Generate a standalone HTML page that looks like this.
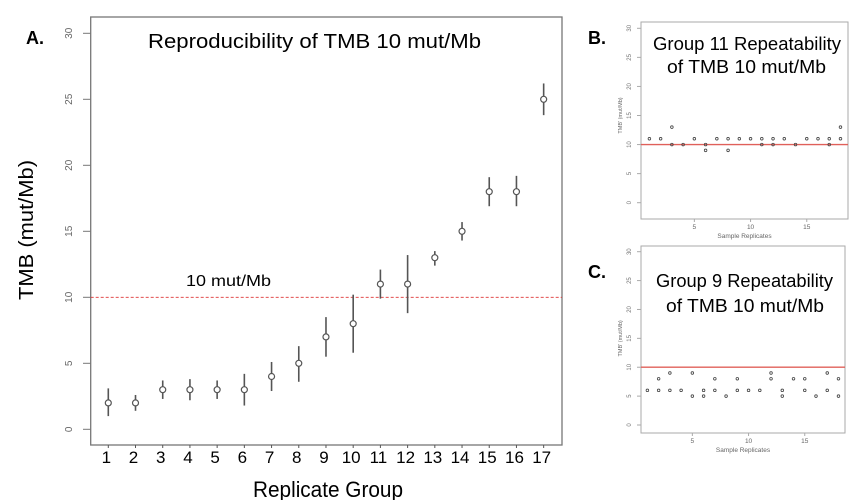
<!DOCTYPE html>
<html><head><meta charset="utf-8"><style>
body{margin:0;background:#fff;}
svg{display:block;font-family:"Liberation Sans",sans-serif;}
</style></head><body>
<svg id="s" width="864" height="500" viewBox="0 0 864 500" xmlns="http://www.w3.org/2000/svg">
<text x="26" y="44" font-size="18" font-weight="bold">A.</text>
<text x="588" y="44" font-size="18" font-weight="bold">B.</text>
<text x="588" y="278" font-size="18" font-weight="bold">C.</text>
<text x="148" y="48" font-size="20" textLength="333" lengthAdjust="spacingAndGlyphs">Reproducibility of TMB 10 mut/Mb</text>
<text x="186" y="286" font-size="16" textLength="85" lengthAdjust="spacingAndGlyphs">10 mut/Mb</text>
<text transform="translate(33,300) rotate(-90)" font-size="20" textLength="140" lengthAdjust="spacingAndGlyphs">TMB (mut/Mb)</text>
<text x="253" y="497" font-size="22" textLength="150" lengthAdjust="spacingAndGlyphs">Replicate Group</text>
<text x="653" y="50" font-size="18" textLength="188" lengthAdjust="spacingAndGlyphs">Group 11 Repeatability</text>
<text x="667" y="73" font-size="18" textLength="159" lengthAdjust="spacingAndGlyphs">of TMB 10 mut/Mb</text>
<text x="656" y="287" font-size="18" textLength="177" lengthAdjust="spacingAndGlyphs">Group 9 Repeatability</text>
<text x="666" y="312" font-size="18" textLength="158" lengthAdjust="spacingAndGlyphs">of TMB 10 mut/Mb</text>
</svg>
<script>
const groups=[1,2,3,4,5,6,7,8,9,10,11,12,13,14,15,16,17];
const means=[2,2,3,3,3,3,4,5,7,8,11,11,13,15,18,18,25];
const lows=[1.0,1.4,2.3,2.2,2.3,1.8,2.9,3.6,5.5,5.8,9.9,8.8,12.4,14.3,16.9,16.9,23.8];
const highs=[3.1,2.6,3.7,3.8,3.7,4.2,5.1,6.3,8.5,10.2,12.1,13.2,13.5,15.7,19.1,19.2,26.2];
const yTicks=[0,5,10,15,20,25,30];
const bX=[1,2,3,3,4,5,6,6,7,8,8,9,10,11,11,12,12,13,14,15,16,17,17,18,18];
const bY=[11,11,13,10,10,11,10,9,11,11,9,11,11,11,10,11,10,11,10,11,11,11,10,13,11];
const cX=[1,2,2,3,3,4,5,5,6,6,7,7,8,9,9,10,11,12,12,13,13,14,15,15,16,17,17,18,18];
const cY=[6,8,6,9,6,6,9,5,6,5,8,6,5,8,6,6,6,9,8,6,5,8,8,6,5,9,6,8,5];
const smallXTicks=[5,10,15];
const NS="http://www.w3.org/2000/svg",svg=document.getElementById('s');
function el(t,a,p){const e=document.createElementNS(NS,t);for(const k in a)e.setAttribute(k,a[k]);(p||svg).appendChild(e);return e;}
const mx=g=>108.3+(g-1)*27.21, my=v=>429.3-v*13.2;
let e=el('rect',{x:90.7,y:17,width:471.3,height:428,fill:'none',stroke:'#777','stroke-width':1.3});

yTicks.forEach(t=>{el('line',{x1:83,x2:90.7,y1:my(t),y2:my(t),stroke:'#777'});
 e=el('text',{transform:`translate(72,${my(t)}) rotate(-90)`,'font-size':10,fill:'#666','text-anchor':'middle'});e.textContent=t;
 });
groups.forEach(g=>{el('line',{x1:mx(g),x2:mx(g),y1:445,y2:448,stroke:'#555'});
 e=el('text',{x:mx(g)-2,y:463,'font-size':17,'text-anchor':'middle'});e.textContent=g;
 });
e=el('line',{x1:90.7,x2:562,y1:my(10),y2:my(10),stroke:'#d33','stroke-dasharray':'3,2','stroke-width':0.9});

groups.forEach((g,i)=>{
 e=el('line',{x1:mx(g),x2:mx(g),y1:my(lows[i]),y2:my(highs[i]),stroke:'#555','stroke-width':1.6});
 
 e=el('circle',{cx:mx(g),cy:my(means[i]),r:3,fill:'#fff',stroke:'#555','stroke-width':1.2});
 });
function panel(name,top,bottom,y0,y30,x1,xs,ys,right){
 const sx=r=>x1+(r-1)*11.24, sy=v=>y0-v*(y0-y30)/30;
 e=el('rect',{x:641,y:top,width:right-641,height:bottom-top,fill:'none',stroke:'#aaa'});
 
 yTicks.forEach(t=>{el('line',{x1:637,x2:641,y1:sy(t),y2:sy(t),stroke:'#aaa'});
  e=el('text',{transform:`translate(631,${sy(t)}) rotate(-90)`,'font-size':6,fill:'#777','text-anchor':'middle'});e.textContent=t;
  });
 smallXTicks.forEach(t=>{el('line',{x1:sx(t),x2:sx(t),y1:bottom,y2:bottom+3,stroke:'#aaa'});
  e=el('text',{x:sx(t),y:bottom+10,'font-size':6.5,fill:'#666','text-anchor':'middle'});e.textContent=t;
  });
 e=el('text',{x:(641+right)/2,y:bottom+19,'font-size':6.5,fill:'#666','text-anchor':'middle'});e.textContent='Sample Replicates';
 
 e=el('text',{transform:`translate(622,${sy(15)}) rotate(-90)`,'font-size':5.5,fill:'#666','text-anchor':'middle'});e.textContent="TMB' (mut/Mb)";
 
 e=el('line',{x1:641,x2:right,y1:sy(10),y2:sy(10),stroke:'#e0605a','stroke-width':1.4});
 
 xs.forEach((r,i)=>{e=el('circle',{cx:sx(r),cy:sy(ys[i]),r:1.3,fill:'none',stroke:'#444','stroke-width':0.8});
  });
}
panel('panel-b',22,219,202.7,28.3,649.4,bX,bY,848);
panel('panel-c',246,433,425,251.7,647.4,cX,cY,845);
</script>
</body></html>
